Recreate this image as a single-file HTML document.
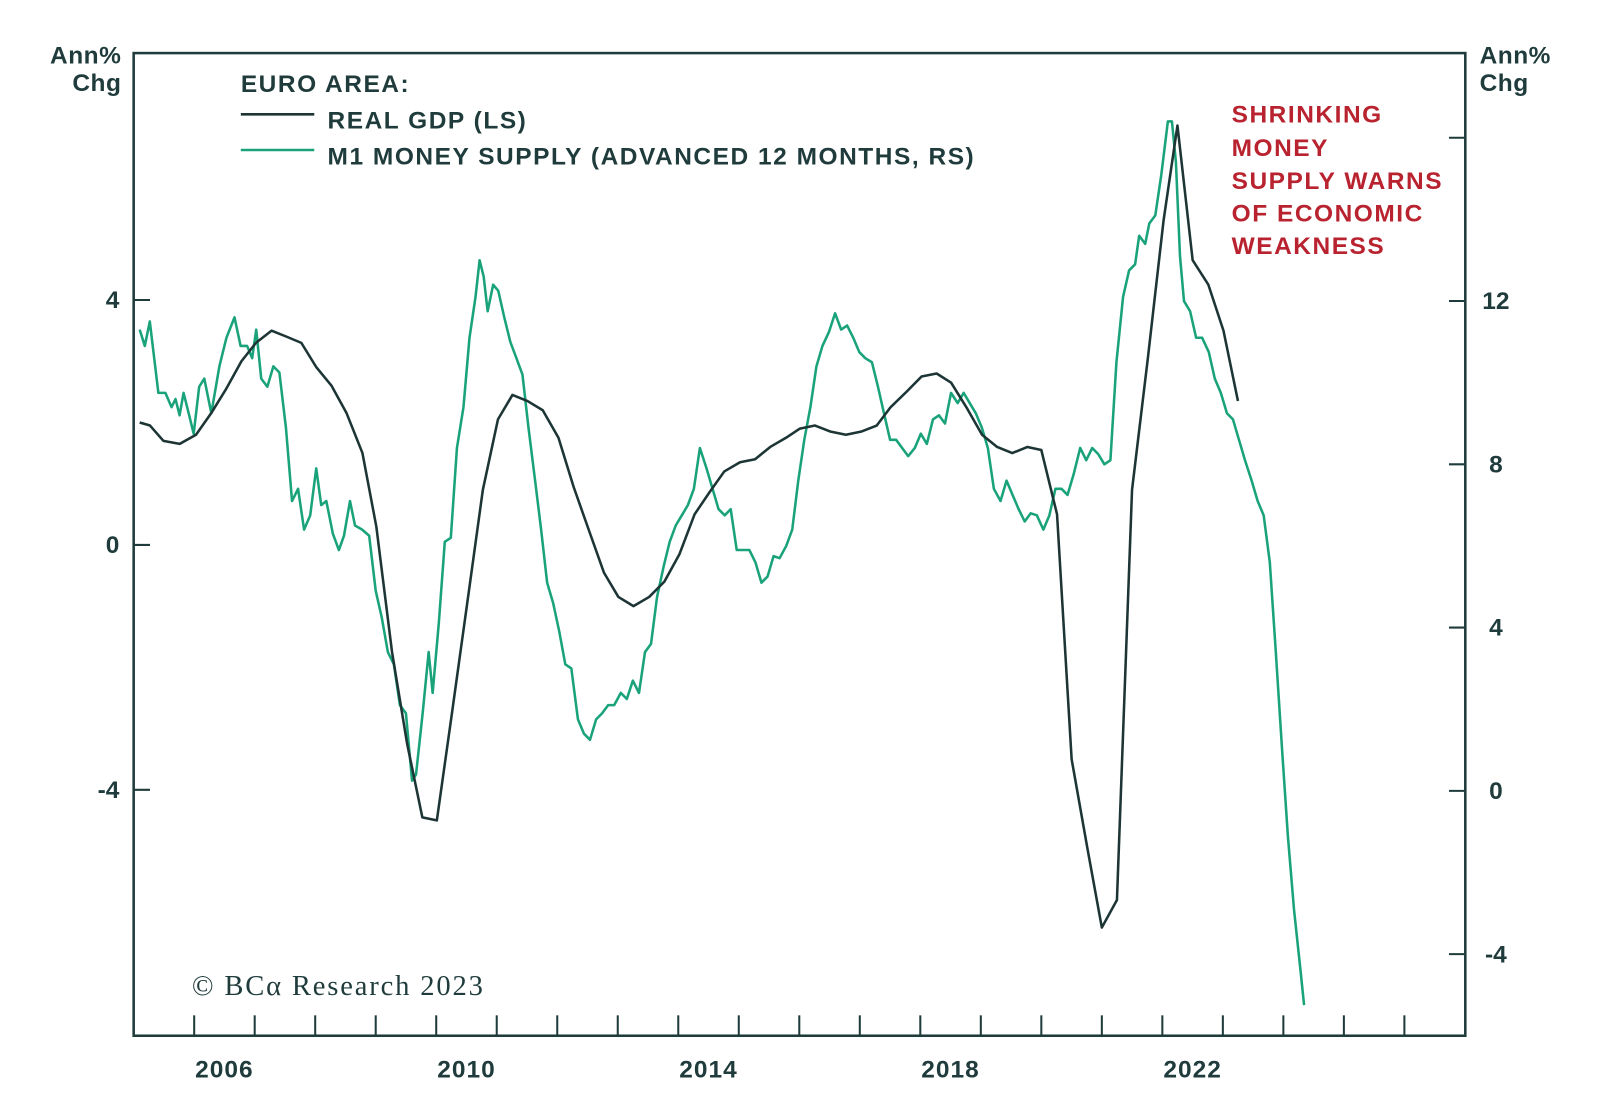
<!DOCTYPE html>
<html><head><meta charset="utf-8"><style>
html,body{margin:0;padding:0;background:#fff;}
svg{display:block;font-family:"Liberation Sans",sans-serif;}
</style></head><body>
<svg id="chart" width="1600" height="1118" viewBox="0 0 1568 1095.6" xmlns="http://www.w3.org/2000/svg">
<rect x="131" y="52" width="1305" height="963" fill="none" stroke="#1f3b3b" stroke-width="2.5"/>
<g id="axes"></g>
<g id="series"></g>
<g font-weight="bold" font-size="24" fill="#1f3b3b" letter-spacing="0.5">
<text x="119" y="62" text-anchor="end">Ann%</text>
<text x="119" y="89" text-anchor="end">Chg</text>
<text x="1450" y="62">Ann%</text>
<text x="1450" y="89">Chg</text>
</g>
<g font-weight="bold" font-size="24" letter-spacing="1.5" fill="#1f3b3b">
<text x="236" y="90">EURO AREA:</text>
<line x1="236" y1="112" x2="308" y2="112" stroke="#1d3535" stroke-width="2.5"/>
<text x="321" y="126">REAL GDP (LS)</text>
<line x1="236" y1="147" x2="308" y2="147" stroke="#1aa37a" stroke-width="2.5"/>
<text x="321" y="161">M1 MONEY SUPPLY (ADVANCED 12 MONTHS, RS)</text>
</g>
<g font-weight="bold" font-size="24" letter-spacing="1.5" fill="#b8232f">
<text x="1207" y="120">SHRINKING</text>
<text x="1207" y="153">MONEY</text>
<text x="1207" y="185">SUPPLY WARNS</text>
<text x="1207" y="217">OF ECONOMIC</text>
<text x="1207" y="249">WEAKNESS</text>
</g>
<text x="188" y="975" font-family="Liberation Serif,serif" font-size="28" letter-spacing="1.8" fill="#1f3b3b">© BCα Research 2023</text>
</svg>
<script>
const leftTicks = [4, 0, -4];
const rightTicks = [16, 12, 8, 4, 0, -4];
const yearLabels = [2006, 2010, 2014, 2018, 2022];
const tickYears = [2006,2007,2008,2009,2010,2011,2012,2013,2014,2015,2016,2017,2018,2019,2020,2021,2022,2023,2024,2025,2026];
const gdpDates = [2005.1,2005.27,2005.49,2005.76,2006.03,2006.28,2006.53,2006.78,2007.02,2007.28,2007.53,2007.77,2008.02,2008.27,2008.52,2008.78,2009.01,2009.27,2009.52,2009.77,2010.01,2010.26,2010.52,2010.77,2011.02,2011.26,2011.51,2011.76,2012.02,2012.27,2012.52,2012.77,2013.01,2013.26,2013.52,2013.77,2014.02,2014.27,2014.51,2014.76,2015.02,2015.27,2015.52,2015.78,2016.01,2016.26,2016.52,2016.77,2017.02,2017.28,2017.51,2017.77,2018.02,2018.27,2018.51,2018.76,2019.02,2019.27,2019.52,2019.77,2020.0,2020.26,2020.5,2020.76,2021.0,2021.25,2021.5,2021.76,2022.02,2022.25,2022.5,2022.76,2023.01,2023.25];
const gdpValues = [2.0,1.95,1.7,1.65,1.8,2.15,2.55,3.0,3.3,3.5,3.4,3.3,2.9,2.6,2.15,1.5,0.3,-1.75,-3.25,-4.45,-4.5,-2.75,-0.9,0.9,2.05,2.45,2.35,2.2,1.75,0.95,0.25,-0.45,-0.85,-1.0,-0.85,-0.6,-0.15,0.5,0.85,1.2,1.35,1.4,1.6,1.75,1.9,1.95,1.85,1.8,1.85,1.95,2.25,2.5,2.75,2.8,2.65,2.25,1.8,1.6,1.5,1.6,1.55,0.5,-3.5,-4.95,-6.25,-5.8,0.9,3.05,5.3,6.85,4.65,4.25,3.5,2.35];
const m1Months = [1.2,2.2,3.2,4.9,6.3,7.5,8.3,9.1,9.9,10.9,11.9,13.0,14.0,15.4,17.0,18.4,20.0,21.2,22.5,23.5,24.3,25.3,26.5,27.7,28.9,30.2,31.4,32.6,33.8,35.0,36.2,37.2,38.2,39.5,40.7,41.7,42.9,43.9,45.3,46.7,48.0,49.2,50.4,51.6,52.8,54.0,55.2,56.0,57.3,58.5,59.3,60.5,61.7,62.9,64.1,65.4,66.6,67.8,68.6,69.4,70.2,71.3,72.3,73.5,74.7,75.9,77.1,78.3,79.6,80.8,82.0,83.2,84.4,85.6,86.8,88.1,89.3,90.5,91.7,92.9,94.1,95.3,96.6,97.8,99.0,100.2,101.4,102.6,103.8,105.1,106.3,107.5,108.7,109.9,111.1,112.3,113.6,114.8,116.0,117.2,118.4,119.6,120.9,122.1,123.3,124.5,125.7,126.9,128.1,129.4,130.6,131.8,133.0,134.2,135.4,136.6,137.9,139.1,140.3,141.5,142.7,143.9,145.1,146.4,147.6,148.8,150.0,151.2,152.4,153.6,154.9,156.1,157.3,158.5,159.7,160.9,162.1,163.4,164.6,165.8,167.0,168.2,169.4,170.6,171.9,173.1,174.3,175.5,176.7,177.9,179.1,180.4,181.6,182.8,184.0,185.2,186.4,187.7,188.9,190.1,191.3,192.5,193.7,194.9,196.2,197.4,198.6,199.4,200.6,201.4,202.6,203.8,205.1,205.9,206.7,207.5,208.3,209.5,210.7,211.9,213.2,214.4,215.6,216.8,218.0,219.2,220.4,221.7,222.9,224.1,225.3,226.5,227.7,228.9,230.1,231.4,232.1];
const m1Values = [11.3,10.9,11.5,9.75,9.75,9.4,9.6,9.2,9.75,9.25,8.75,9.9,10.1,9.25,10.4,11.1,11.6,10.9,10.9,10.6,11.3,10.1,9.9,10.4,10.25,8.9,7.1,7.4,6.4,6.75,7.9,7.0,7.1,6.3,5.9,6.25,7.1,6.5,6.4,6.25,4.9,4.25,3.4,3.1,2.1,1.9,0.25,0.4,1.9,3.4,2.4,4.1,6.1,6.2,8.4,9.4,11.1,12.1,13.0,12.6,11.75,12.4,12.25,11.6,11.0,10.6,10.2,8.9,7.6,6.4,5.1,4.6,3.9,3.1,3.0,1.75,1.4,1.25,1.75,1.9,2.1,2.1,2.4,2.25,2.7,2.4,3.4,3.6,4.75,5.5,6.1,6.5,6.75,7.0,7.4,8.4,7.9,7.4,6.9,6.75,6.9,5.9,5.9,5.9,5.6,5.1,5.25,5.75,5.7,6.0,6.4,7.6,8.6,9.4,10.4,10.9,11.25,11.7,11.3,11.4,11.1,10.75,10.6,10.5,9.9,9.25,8.6,8.6,8.4,8.2,8.4,8.75,8.5,9.1,9.2,9.0,9.75,9.5,9.75,9.5,9.25,8.9,8.4,7.4,7.1,7.6,7.25,6.9,6.6,6.8,6.75,6.4,6.75,7.4,7.4,7.25,7.75,8.4,8.1,8.4,8.25,8.0,8.1,10.5,12.1,12.75,12.9,13.6,13.4,13.9,14.1,15.1,16.4,16.4,15.4,13.1,12.0,11.75,11.1,11.1,10.75,10.1,9.75,9.25,9.1,8.6,8.1,7.6,7.1,6.75,5.6,3.4,1.1,-1.1,-2.9,-4.4,-5.25];

const NS = 'http://www.w3.org/2000/svg';
const xYear = y => 131 + (y - 2005) * 59.3;
const xMonth = m => 131 + m * 59.3 / 12;
const yLeft = v => 534 - v * 60;
const yRight = v => 775 - v * 40;
function mk(tag, attrs, parent) {
  const e = document.createElementNS(NS, tag);
  for (const k in attrs) e.setAttribute(k, attrs[k]);
  parent.appendChild(e);
  return e;
}
const axes = document.getElementById('axes');
const series = document.getElementById('series');
const ink = '#1f3b3b';
leftTicks.forEach(v => {
  const l = mk('line', {x1: 131, x2: 147, y1: yLeft(v), y2: yLeft(v), stroke: ink, 'stroke-width': 2}, axes);
  
  
  const t = mk('text', {x: 117, y: yLeft(v) + 8, 'text-anchor': 'end', 'font-weight': 'bold', 'font-size': 24, fill: ink}, axes);
  t.textContent = v;
  
  
});
rightTicks.forEach(v => {
  const l = mk('line', {x1: 1420, x2: 1436, y1: yRight(v), y2: yRight(v), stroke: ink, 'stroke-width': 2}, axes);
  
  
  if (v !== 16) {
    const t = mk('text', {x: 1466, y: yRight(v) + 8, 'text-anchor': 'middle', 'font-weight': 'bold', 'font-size': 24, fill: ink}, axes);
    t.textContent = v;
    
    
  }
});
tickYears.forEach(yr => {
  const l = mk('line', {x1: xYear(yr), x2: xYear(yr), y1: 995, y2: 1015, stroke: ink, 'stroke-width': 2}, axes);
  
  
});
yearLabels.forEach(yr => {
  const t = mk('text', {x: xYear(yr + 0.5), y: 1056, 'text-anchor': 'middle', 'font-weight': 'bold', 'font-size': 24, 'letter-spacing': 1, fill: ink}, axes);
  t.textContent = yr;
  
  
});
const gdpPts = gdpDates.map((d, i) => xYear(d).toFixed(1) + ',' + yLeft(gdpValues[i]).toFixed(1)).join(' ');
const m1Pts = m1Months.map((m, i) => xMonth(m).toFixed(1) + ',' + yRight(m1Values[i]).toFixed(1)).join(' ');
const m1 = mk('polyline', {points: m1Pts, fill: 'none', stroke: '#1aa37a', 'stroke-width': 2.5, 'stroke-linejoin': 'round'}, series);


const gdp = mk('polyline', {points: gdpPts, fill: 'none', stroke: '#1d3535', 'stroke-width': 2.5, 'stroke-linejoin': 'round'}, series);


</script>
</body></html>
